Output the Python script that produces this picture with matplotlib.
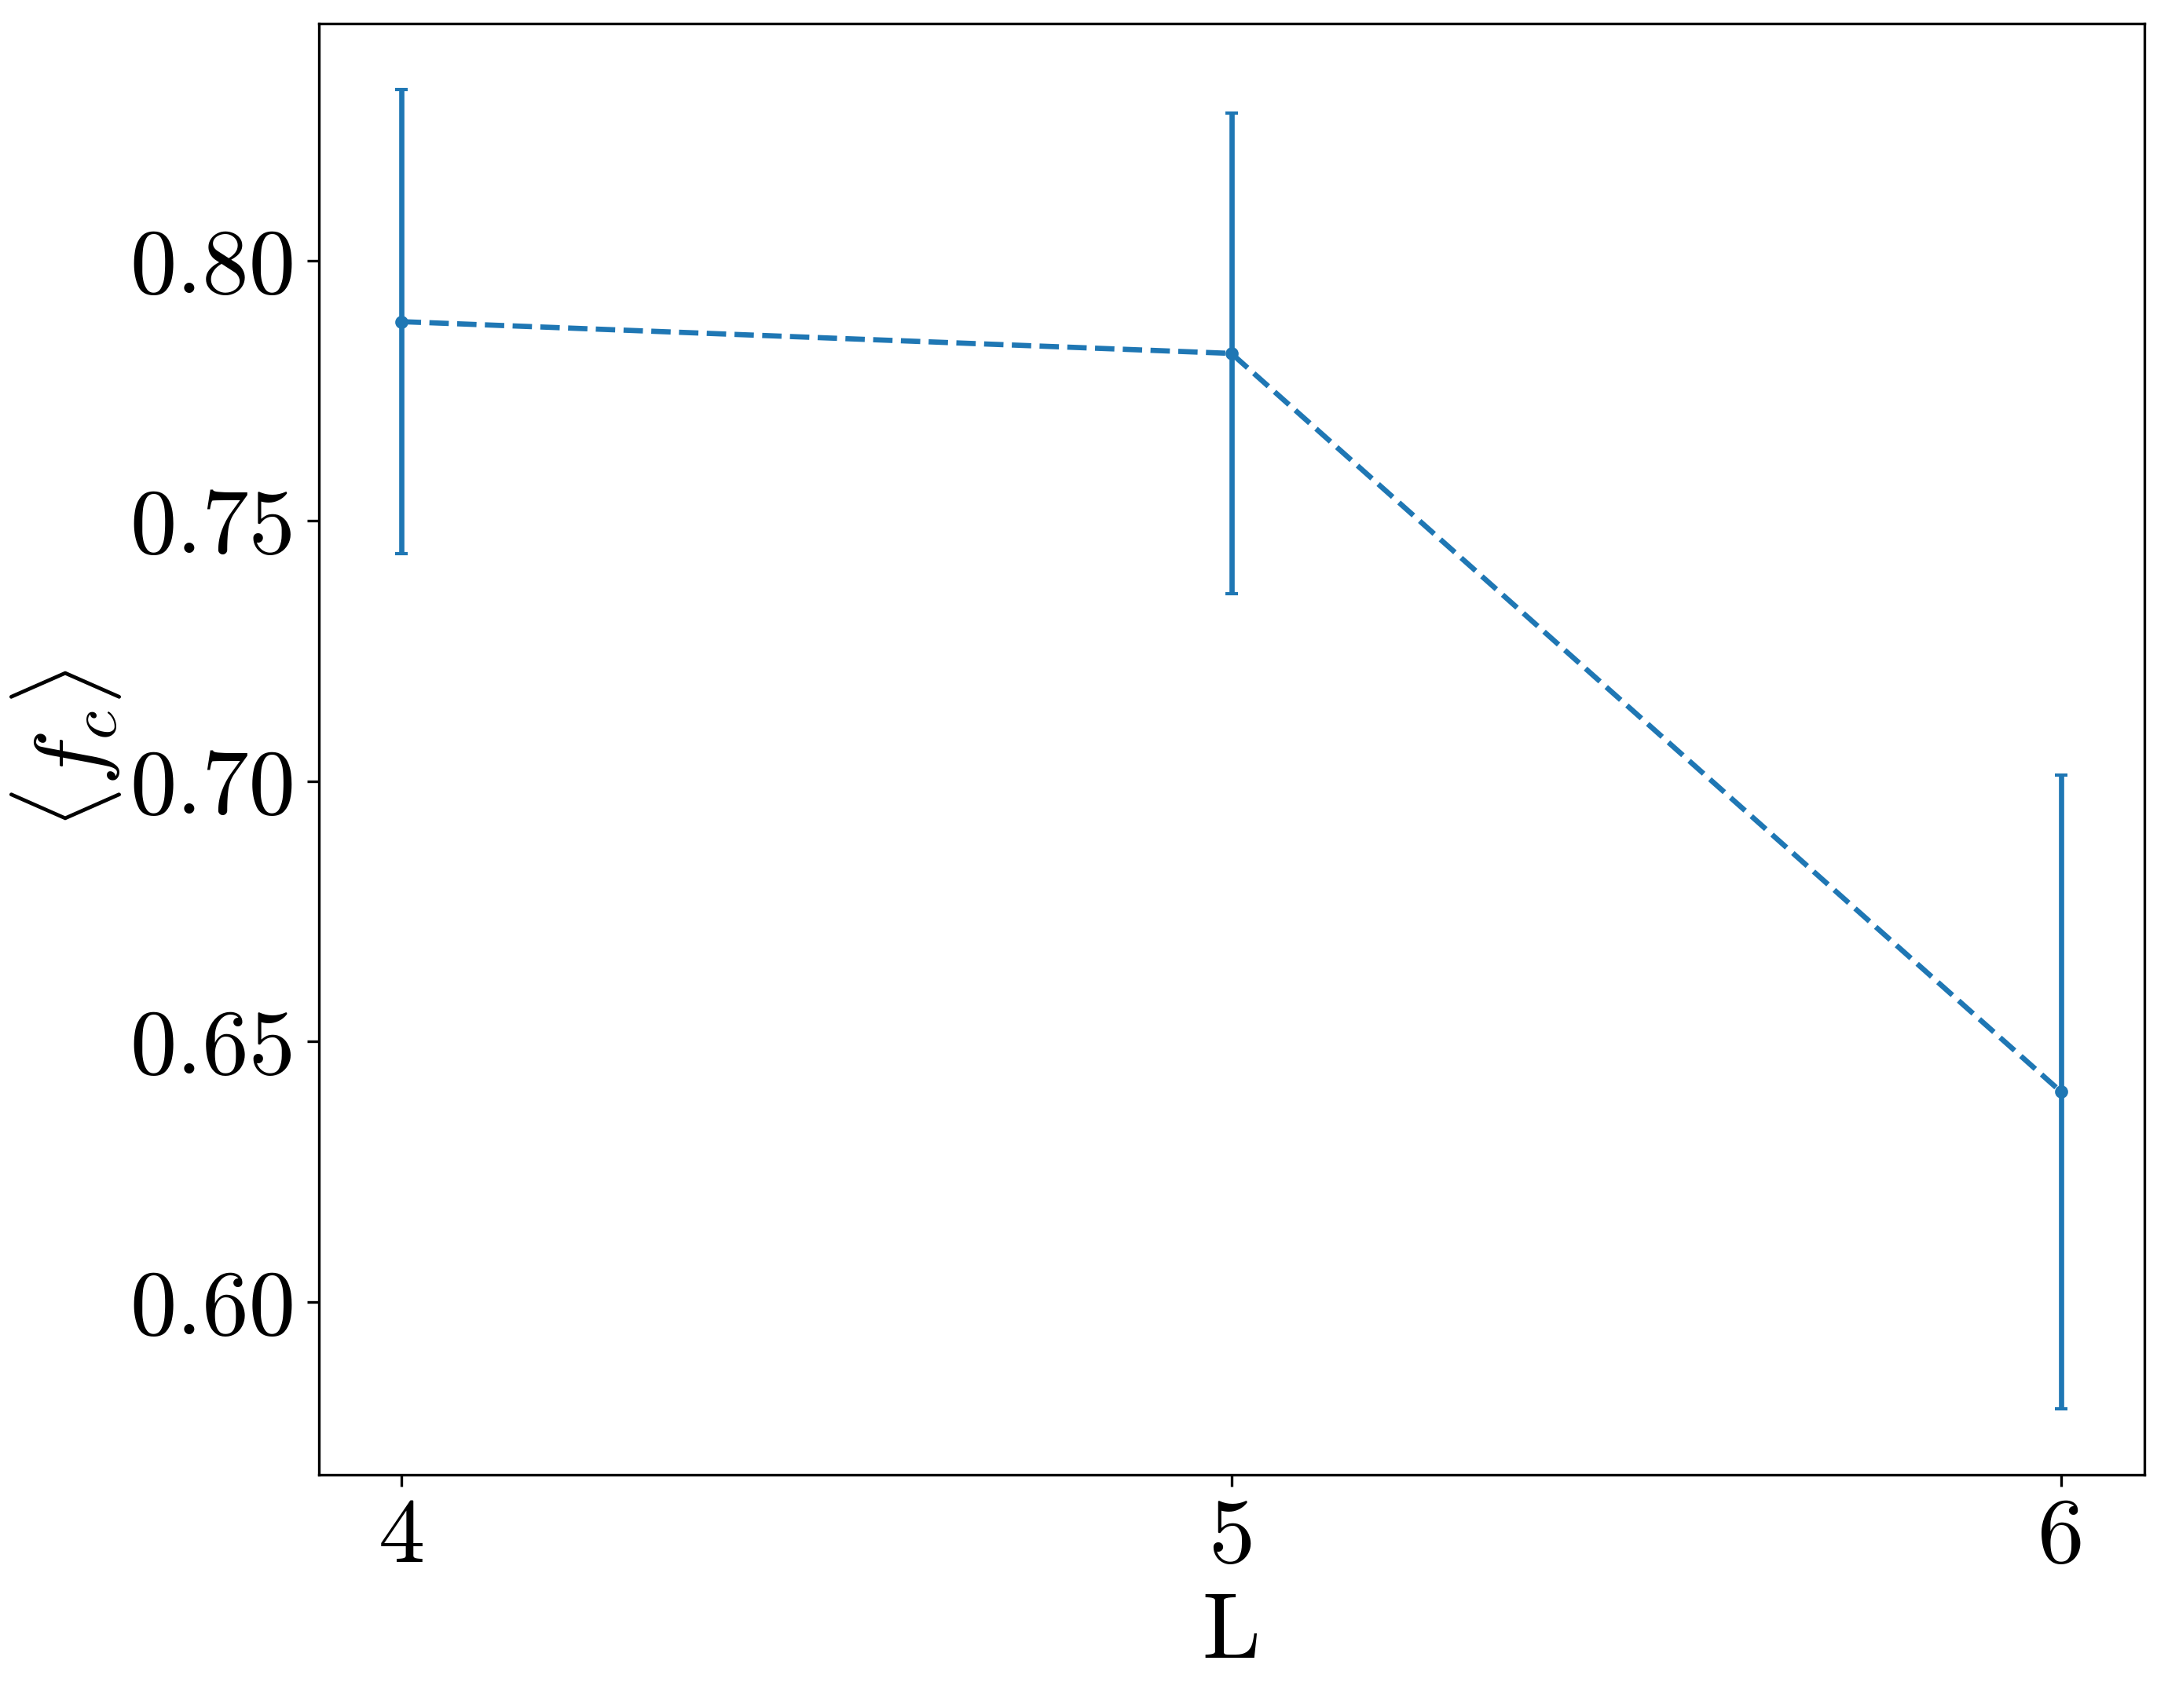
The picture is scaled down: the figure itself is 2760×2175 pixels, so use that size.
import numpy as np
import matplotlib
matplotlib.use('Agg')
import matplotlib.pyplot as plt

plt.rcParams['font.family'] = 'serif'
plt.rcParams['font.serif'] = ['cmr10']
plt.rcParams['mathtext.fontset'] = 'cm'
plt.rcParams['axes.formatter.use_mathtext'] = True
plt.rcParams['axes.unicode_minus'] = False

# Data
L = [4, 5, 6]
fc_mean = [0.7883, 0.7822, 0.6403]
fc_err = [0.0446, 0.0462, 0.0609]

fig = plt.figure(figsize=(9.2, 7.25), dpi=300)
ax = fig.add_axes([0.147, 0.1365, 0.842, 0.8497])

ax.errorbar(L, fc_mean, yerr=fc_err, fmt='.--', color='tab:blue',
            capsize=2, elinewidth=1.6, linewidth=1.6, markersize=6)

ax.set_xticks(L)
ax.set_xticklabels([str(v) for v in L])
ax.set_yticks([0.60, 0.65, 0.70, 0.75, 0.80])
ax.set_yticklabels(['0.60', '0.65', '0.70', '0.75', '0.80'])
ax.tick_params(labelsize=28.5)
ax.set_xlabel('L', fontsize=28.5)
ax.set_ylabel(r'$\langle f_c \rangle$', fontsize=28.5, labelpad=2)

fig.savefig('out.png', dpi=300)
